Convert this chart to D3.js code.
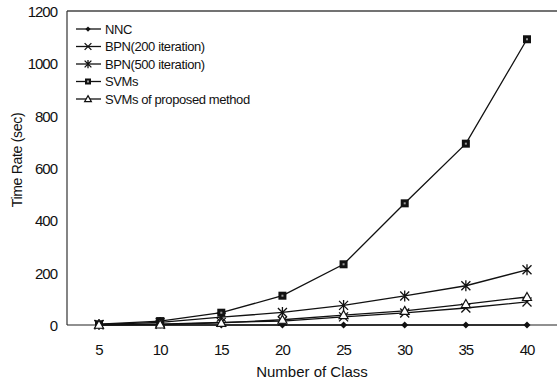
<!DOCTYPE html>
<html>
<head>
<meta charset="utf-8">
<script src="https://cdn.jsdelivr.net/npm/d3@7"></script>
<style>
body { margin: 0; background: #fff; }
text { font-family: "Liberation Sans", Arial, sans-serif; fill: #111; }
</style>
</head>
<body>
<svg width="557" height="381"></svg>
<script>
var classes = [5, 10, 15, 20, 25, 30, 35, 40];
var nnc = [0, 0, 0, 0, 0, 0, 0, 0];
var bpn200 = [1, 3, 10, 15, 31, 46, 65, 88];
var bpn500 = [2, 10, 30, 48, 75, 111, 150, 211];
var svms = [3, 15, 47, 112, 232, 465, 693, 1092];
var proposed = [1, 2, 8, 20, 38, 54, 80, 107];
var yTicks = [0, 200, 400, 600, 800, 1000, 1200];

var series = [
    {name: 'NNC', values: nnc, marker: 'diamond'},
    {name: 'BPN(200 iteration)', values: bpn200, marker: 'cross'},
    {name: 'BPN(500 iteration)', values: bpn500, marker: 'star'},
    {name: 'SVMs', values: svms, marker: 'square'},
    {name: 'SVMs of proposed method', values: proposed, marker: 'triangle'}
];

var svg = d3.select('svg');

var plotLeft = 67, plotRight = 557, plotTop = 11, plotBottom = 325;

var x = d3.scaleLinear().domain([5, 40]).range([99, 527]);
var y = d3.scaleLinear().domain([0, 1200]).range([plotBottom, plotTop]);

// frame
svg.append('line').attr('x1', plotLeft).attr('x2', plotRight).attr('y1', plotTop).attr('y2', plotTop)
    .attr('stroke', '#444').attr('stroke-width', 1.5);
svg.append('line').attr('x1', plotLeft).attr('x2', plotLeft).attr('y1', plotTop).attr('y2', plotBottom)
    .attr('stroke', '#333').attr('stroke-width', 1.2);
svg.append('line').attr('x1', plotLeft).attr('x2', plotRight).attr('y1', plotBottom).attr('y2', plotBottom)
    .attr('stroke', '#222').attr('stroke-width', 1.2);

// y labels
svg.selectAll('.ylab')
    .data(yTicks)
    .enter()
    .append('text')
    .attr('class', 'ylab')
    .attr('x', 57)
    .attr('y', function(d){ return y(d) + 6; })
    .attr('text-anchor', 'end')
    .attr('font-size', 15)
    .attr('letter-spacing', -1)
    .text(function(d){ return d; });

// x labels
svg.selectAll('.xlab')
    .data(classes)
    .enter()
    .append('text')
    .attr('class', 'xlab')
    .attr('x', function(d){ return x(d); })
    .attr('y', 355)
    .attr('text-anchor', 'middle')
    .attr('font-size', 15)
    .attr('letter-spacing', -1)
    .text(function(d){ return d; });

svg.append('text')
    .attr('x', 312)
    .attr('y', 377)
    .attr('text-anchor', 'middle')
    .attr('font-size', 15)
    .text('Number of Class');

svg.append('text')
    .attr('transform', 'translate(22,160) rotate(-90)')
    .attr('text-anchor', 'middle')
    .attr('font-size', 14)
    .attr('letter-spacing', -0.3)
    .text('Time Rate (sec)');

var lineFunction = d3.line()
    .x(function(d, i){ return x(classes[i]); })
    .y(function(d){ return y(d); });

function drawMarker(g, type, cx, cy, k) {
    if (type === 'diamond') {
        g.append('path')
            .attr('d', 'M' + cx + ',' + (cy - 3.5 * k) + 'L' + (cx + 3.5 * k) + ',' + cy + 'L' + cx + ',' + (cy + 3.5 * k) + 'L' + (cx - 3.5 * k) + ',' + cy + 'Z')
            .attr('fill', '#111');
    } else if (type === 'cross') {
        g.append('path')
            .attr('d', 'M' + (cx - 4.5 * k) + ',' + (cy - 4.5 * k) + 'L' + (cx + 4.5 * k) + ',' + (cy + 4.5 * k) + 'M' + (cx + 4.5 * k) + ',' + (cy - 4.5 * k) + 'L' + (cx - 4.5 * k) + ',' + (cy + 4.5 * k))
            .attr('stroke', '#111').attr('stroke-width', 1.3).attr('fill', 'none');
    } else if (type === 'star') {
        g.append('path')
            .attr('d', 'M' + (cx - 4.5 * k) + ',' + (cy - 4.5 * k) + 'L' + (cx + 4.5 * k) + ',' + (cy + 4.5 * k) + 'M' + (cx + 4.5 * k) + ',' + (cy - 4.5 * k) + 'L' + (cx - 4.5 * k) + ',' + (cy + 4.5 * k) + 'M' + cx + ',' + (cy - 5.5 * k) + 'L' + cx + ',' + (cy + 5.5 * k))
            .attr('stroke', '#111').attr('stroke-width', 1.3).attr('fill', 'none');
    } else if (type === 'square') {
        g.append('rect')
            .attr('x', cx - 4 * k).attr('y', cy - 4 * k).attr('width', 8 * k).attr('height', 8 * k)
            .attr('fill', '#111');
        g.append('rect')
            .attr('x', cx - 1).attr('y', cy - 1).attr('width', 2).attr('height', 2)
            .attr('fill', '#999');
    } else if (type === 'triangle') {
        g.append('path')
            .attr('d', 'M' + cx + ',' + (cy - 4.5 * k) + 'L' + (cx + 4.5 * k) + ',' + (cy + 3.5 * k) + 'L' + (cx - 4.5 * k) + ',' + (cy + 3.5 * k) + 'Z')
            .attr('fill', '#fff').attr('stroke', '#111').attr('stroke-width', 1.2);
    }
}

var plot = svg.append('g');

series.forEach(function(s){
    plot.append('path')
        .datum(s.values)
        .attr('d', lineFunction)
        .attr('fill', 'none')
        .attr('stroke', '#111')
        .attr('stroke-width', 1.3);
});

series.forEach(function(s){
    var g = plot.append('g');
    s.values.forEach(function(v, i){
        drawMarker(g, s.marker, x(classes[i]), y(v), 1);
    });
});

// legend
var legend = svg.append('g');
series.forEach(function(s, i){
    var ly = 29 + i * 17.5;
    legend.append('line')
        .attr('x1', 76).attr('x2', 101).attr('y1', ly).attr('y2', ly)
        .attr('stroke', '#111').attr('stroke-width', 1.3);
    drawMarker(legend, s.marker, 88, ly, 0.75);
    legend.append('text')
        .attr('x', 105)
        .attr('y', ly + 4.5)
        .attr('font-size', 13)
        .attr('letter-spacing', -0.4)
        .text(s.name);
});
</script>
</body>
</html>
